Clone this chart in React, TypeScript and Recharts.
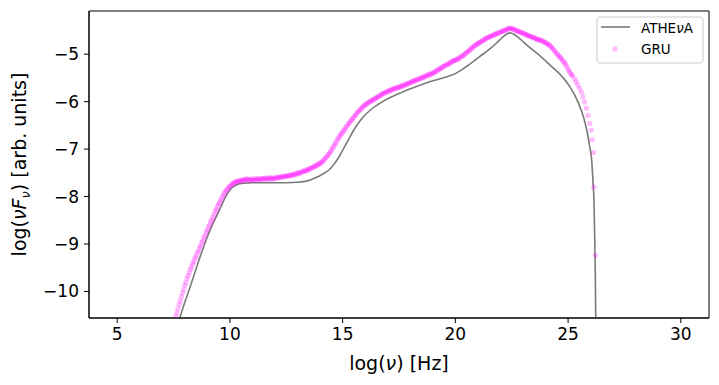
import React from "react";
import { ComposedChart, Line, Scatter, XAxis, YAxis, Label, ReferenceArea } from "recharts";

const xTicks = [5, 10, 15, 20, 25, 30];
const yTicks = [-10, -9, -8, -7, -6, -5];
const xDomain = [3.75, 31.25];
const yDomain = [-10.56, -4.09];

// ATHEνA model curve: [log ν, log νFν]
const athePoints: [number, number][] = [
  [7.5, -11.0], [7.77, -10.57], [8.0, -10.23], [8.29, -9.83], [8.5, -9.52], [8.73, -9.2], [8.95, -8.91],
  [9.18, -8.64], [9.4, -8.42], [9.55, -8.27], [9.75, -8.06], [9.91, -7.92], [10.1, -7.81], [10.3, -7.75],
  [10.6, -7.72], [11.0, -7.71], [11.5, -7.71], [12.0, -7.71], [12.5, -7.71], [13.0, -7.7], [13.5, -7.66],
  [13.83, -7.6], [14.1, -7.53], [14.42, -7.43], [14.65, -7.3], [14.87, -7.14], [15.1, -6.94], [15.35, -6.72],
  [15.6, -6.52], [15.9, -6.33], [16.3, -6.15], [16.7, -6.02], [17.08, -5.92], [17.6, -5.81], [18.12, -5.71],
  [18.86, -5.58], [19.6, -5.48], [20.0, -5.41], [20.49, -5.26], [21.08, -5.05], [21.5, -4.9], [21.82, -4.77],
  [22.1, -4.64], [22.41, -4.55], [22.6, -4.58], [22.85, -4.67], [23.2, -4.82], [23.74, -5.03], [24.25, -5.25],
  [24.75, -5.48], [25.1, -5.7], [25.45, -6.02], [25.7, -6.35], [25.85, -6.65], [25.96, -6.95], [26.05, -7.25],
  [26.1, -7.65], [26.15, -8.14], [26.18, -8.85], [26.21, -9.76], [26.23, -10.8], [26.25, -12.0],
];

// GRU points: [log ν, log νFν]
const gruPoints: [number, number][] = [
  [7.6, -10.52], [7.65, -10.45], [7.7, -10.36], [7.75, -10.27], [7.8, -10.2], [7.85, -10.11], [7.9, -10.03],
  [7.95, -9.96], [8.0, -9.87], [8.05, -9.81], [8.1, -9.73], [8.15, -9.67], [8.2, -9.6], [8.25, -9.53],
  [8.3, -9.48], [8.35, -9.41], [8.4, -9.37], [8.45, -9.3], [8.5, -9.26], [8.55, -9.19], [8.6, -9.15],
  [8.65, -9.08], [8.7, -9.04], [8.75, -8.97], [8.8, -8.93], [8.85, -8.86], [8.9, -8.82], [8.95, -8.75],
  [9.0, -8.71], [9.05, -8.64], [9.1, -8.6], [9.15, -8.53], [9.2, -8.49], [9.25, -8.43], [9.3, -8.38],
  [9.35, -8.31], [9.4, -8.27], [9.45, -8.21], [9.5, -8.16], [9.55, -8.12], [9.6, -8.07], [9.65, -8.02],
  [9.7, -7.98], [9.75, -7.93], [9.8, -7.9], [9.85, -7.86], [9.9, -7.84], [9.95, -7.8], [10.0, -7.79],
  [10.05, -7.76], [10.1, -7.74], [10.15, -7.72], [10.2, -7.71], [10.25, -7.69], [10.3, -7.69], [10.35, -7.67],
  [10.4, -7.68], [10.45, -7.66], [10.5, -7.67], [10.55, -7.65], [10.6, -7.66], [10.65, -7.64], [10.7, -7.65],
  [10.75, -7.63], [10.8, -7.64], [10.85, -7.66], [10.9, -7.65], [10.95, -7.63], [11.0, -7.64], [11.05, -7.66],
  [11.1, -7.65], [11.15, -7.62], [11.2, -7.63], [11.25, -7.65], [11.3, -7.64], [11.35, -7.62], [11.4, -7.63],
  [11.45, -7.64], [11.5, -7.62], [11.55, -7.61], [11.6, -7.63], [11.65, -7.64], [11.7, -7.62], [11.75, -7.6],
  [11.8, -7.63], [11.85, -7.62], [11.9, -7.61], [11.95, -7.63], [12.0, -7.62], [12.05, -7.6], [12.1, -7.6],
  [12.15, -7.61], [12.2, -7.6], [12.25, -7.58], [12.3, -7.59], [12.35, -7.59], [12.4, -7.58], [12.45, -7.56],
  [12.5, -7.58], [12.55, -7.56], [12.6, -7.57], [12.65, -7.55], [12.7, -7.56], [12.75, -7.54], [12.8, -7.55],
  [12.85, -7.53], [12.9, -7.54], [12.95, -7.51], [13.0, -7.52], [13.05, -7.5], [13.1, -7.51], [13.15, -7.48],
  [13.2, -7.49], [13.25, -7.46], [13.3, -7.47], [13.35, -7.44], [13.4, -7.46], [13.45, -7.43], [13.5, -7.44],
  [13.55, -7.41], [13.6, -7.41], [13.65, -7.38], [13.7, -7.39], [13.75, -7.36], [13.8, -7.36], [13.85, -7.33],
  [13.9, -7.34], [13.95, -7.3], [14.0, -7.31], [14.05, -7.28], [14.1, -7.27], [14.15, -7.23], [14.2, -7.22],
  [14.25, -7.18], [14.3, -7.16], [14.35, -7.12], [14.4, -7.1], [14.45, -7.06], [14.5, -7.03], [14.55, -6.98],
  [14.6, -6.95], [14.65, -6.9], [14.7, -6.87], [14.75, -6.82], [14.8, -6.78], [14.85, -6.74], [14.9, -6.71],
  [14.95, -6.67], [15.0, -6.65], [15.05, -6.61], [15.1, -6.58], [15.15, -6.54], [15.2, -6.51], [15.25, -6.47],
  [15.3, -6.45], [15.35, -6.41], [15.4, -6.39], [15.45, -6.35], [15.5, -6.33], [15.55, -6.29], [15.6, -6.27],
  [15.65, -6.23], [15.7, -6.21], [15.75, -6.18], [15.8, -6.16], [15.85, -6.13], [15.9, -6.11], [15.95, -6.08],
  [16.0, -6.07], [16.05, -6.05], [16.1, -6.04], [16.15, -6.01], [16.2, -6.01], [16.25, -5.98], [16.3, -5.98],
  [16.35, -5.96], [16.4, -5.95], [16.45, -5.93], [16.5, -5.92], [16.55, -5.9], [16.6, -5.89], [16.65, -5.87],
  [16.7, -5.86], [16.75, -5.84], [16.8, -5.83], [16.85, -5.82], [16.9, -5.81], [16.95, -5.79], [17.0, -5.79],
  [17.05, -5.77], [17.1, -5.77], [17.15, -5.75], [17.2, -5.75], [17.25, -5.73], [17.3, -5.73], [17.35, -5.71],
  [17.4, -5.72], [17.45, -5.7], [17.5, -5.7], [17.55, -5.68], [17.6, -5.68], [17.65, -5.66], [17.7, -5.67],
  [17.75, -5.64], [17.8, -5.65], [17.85, -5.62], [17.9, -5.63], [17.95, -5.6], [18.0, -5.61], [18.05, -5.58],
  [18.1, -5.58], [18.15, -5.56], [18.2, -5.57], [18.25, -5.54], [18.3, -5.55], [18.35, -5.52], [18.4, -5.53],
  [18.45, -5.5], [18.5, -5.51], [18.55, -5.48], [18.6, -5.49], [18.65, -5.46], [18.7, -5.47], [18.75, -5.44],
  [18.8, -5.45], [18.85, -5.42], [18.9, -5.43], [18.95, -5.4], [19.0, -5.41], [19.05, -5.38], [19.1, -5.38],
  [19.15, -5.35], [19.2, -5.35], [19.25, -5.32], [19.3, -5.32], [19.35, -5.29], [19.4, -5.29], [19.45, -5.26],
  [19.5, -5.26], [19.55, -5.23], [19.6, -5.23], [19.65, -5.21], [19.7, -5.21], [19.75, -5.18], [19.8, -5.18],
  [19.85, -5.15], [19.9, -5.15], [19.95, -5.13], [20.0, -5.13], [20.05, -5.11], [20.1, -5.11], [20.15, -5.08],
  [20.2, -5.08], [20.25, -5.05], [20.3, -5.05], [20.35, -5.02], [20.4, -5.01], [20.45, -4.98], [20.5, -4.97],
  [20.55, -4.94], [20.6, -4.93], [20.65, -4.9], [20.7, -4.89], [20.75, -4.86], [20.8, -4.85], [20.85, -4.82],
  [20.9, -4.81], [20.95, -4.79], [21.0, -4.78], [21.05, -4.76], [21.1, -4.75], [21.15, -4.73], [21.2, -4.72],
  [21.25, -4.7], [21.3, -4.69], [21.35, -4.67], [21.4, -4.66], [21.45, -4.65], [21.5, -4.64], [21.55, -4.62],
  [21.6, -4.62], [21.65, -4.6], [21.7, -4.6], [21.75, -4.58], [21.8, -4.58], [21.85, -4.56], [21.9, -4.56],
  [21.95, -4.54], [22.0, -4.54], [22.05, -4.52], [22.1, -4.52], [22.15, -4.5], [22.2, -4.5], [22.25, -4.48],
  [22.3, -4.48], [22.35, -4.46], [22.4, -4.46], [22.45, -4.45], [22.5, -4.47], [22.55, -4.47], [22.6, -4.48],
  [22.65, -4.49], [22.7, -4.5], [22.75, -4.51], [22.8, -4.52], [22.85, -4.53], [22.9, -4.54], [22.95, -4.55],
  [23.0, -4.56], [23.05, -4.57], [23.1, -4.58], [23.15, -4.59], [23.2, -4.6], [23.25, -4.61], [23.3, -4.62],
  [23.35, -4.63], [23.4, -4.64], [23.45, -4.65], [23.5, -4.66], [23.55, -4.67], [23.6, -4.68], [23.65, -4.69],
  [23.7, -4.7], [23.75, -4.7], [23.8, -4.71], [23.85, -4.72], [23.9, -4.73], [23.95, -4.75], [24.0, -4.76],
  [24.05, -4.77], [24.1, -4.79], [24.15, -4.8], [24.2, -4.82], [24.25, -4.85], [24.3, -4.87], [24.35, -4.9],
  [24.4, -4.93], [24.45, -4.96], [24.5, -4.99], [24.55, -5.02], [24.6, -5.04], [24.65, -5.07], [24.7, -5.09],
  [24.75, -5.13], [24.8, -5.16], [24.85, -5.19], [24.9, -5.22], [24.95, -5.27], [25.0, -5.32], [25.05, -5.36],
  [25.1, -5.4], [25.15, -5.43], [25.2, -5.46], [25.29, -5.52], [25.36, -5.58], [25.43, -5.65], [25.51, -5.72],
  [25.59, -5.8], [25.66, -5.9], [25.73, -6.01], [25.81, -6.14], [25.88, -6.29], [25.96, -6.46], [26.03, -6.6],
  [26.07, -6.8], [26.12, -7.07], [26.14, -7.8], [26.21, -9.24],
];

const atheData = athePoints.map(([x, y]) => ({ x, y }));
const gruData = gruPoints.map(([x, y]) => ({ x, y }));

const FONT = "DejaVu Sans";
const LINE_COLOR = "#7a7a7a";
const DOT_COLOR = "#ff00ff";
const DOT_OPACITY = 0.25;
const fmt = (v: number) => (v < 0 ? "\u2212" + Math.abs(v) : String(v));

const Dot = (props: any) => {
  const { cx, cy } = props;
  if (cx == null || cy == null) return null;
  return <circle cx={cx} cy={cy} r={2.7} fill={DOT_COLOR} fillOpacity={DOT_OPACITY} />;
};

const XLabel = (props: any) => {
  const vb = props.viewBox || {};
  const cx = vb.x + vb.width / 2;
  return (
    <text x={cx} y={370} textAnchor="middle" fontFamily={FONT} fontSize={19} fill="#000">
      log(<tspan fontStyle="italic">ν</tspan>) [Hz]
    </text>
  );
};

const YLabel = (props: any) => {
  const vb = props.viewBox || {};
  const cy = vb.y + vb.height / 2;
  const x = 26;
  return (
    <text
      x={x}
      y={cy}
      transform={`rotate(-90 ${x} ${cy})`}
      textAnchor="middle"
      fontFamily={FONT}
      fontSize={19}
      fill="#000"
    >
      log(<tspan fontStyle="italic">νF</tspan>
      <tspan fontStyle="italic" fontSize={13} dy={4}>ν</tspan>
      <tspan dy={-4}>) [arb. units]</tspan>
    </text>
  );
};

export default function App() {
  return (
    <div style={{ position: "absolute", left: 0, top: 0, width: 719, height: 385, background: "#fff" }}>
      <ComposedChart width={719} height={385} margin={{ top: 11, right: 10, bottom: 0, left: 0 }}>
        <XAxis
          type="number"
          dataKey="x"
          domain={xDomain}
          ticks={xTicks}
          allowDataOverflow
          height={67}
          tickSize={5}
          tickMargin={5}
          tickFormatter={fmt}
          axisLine={{ stroke: "#000", strokeWidth: 1 }}
          tickLine={{ stroke: "#000", strokeWidth: 1 }}
          tick={{ fill: "#000", fontSize: 17, fontFamily: FONT }}
        >
          <Label content={<XLabel />} />
        </XAxis>
        <YAxis
          type="number"
          dataKey="y"
          domain={yDomain}
          ticks={yTicks}
          allowDataOverflow
          width={89}
          tickSize={5}
          tickMargin={5}
          tickFormatter={fmt}
          axisLine={{ stroke: "#000", strokeWidth: 1 }}
          tickLine={{ stroke: "#000", strokeWidth: 1 }}
          tick={{ fill: "#000", fontSize: 17, fontFamily: FONT }}
        >
          <Label content={<YLabel />} />
        </YAxis>
        <Line
          data={atheData}
          dataKey="y"
          type="monotone"
          stroke={LINE_COLOR}
          strokeWidth={1.6}
          dot={false}
          isAnimationActive={false}
          name="ATHEνA"
        />
        <Scatter data={gruData} dataKey="y" shape={<Dot />} isAnimationActive={false} name="GRU" />
        <ReferenceArea
          x1={xDomain[0]}
          x2={xDomain[1]}
          y1={yDomain[0]}
          y2={yDomain[1]}
          fill="none"
          fillOpacity={0}
          stroke="#000"
          strokeWidth={1}
          strokeOpacity={1}
        />
      </ComposedChart>
      <svg width={108} height={48} style={{ position: "absolute", left: 596, top: 16 }}>
        <rect x={1} y={1} width={106} height={46} rx={3} fill="#fff" fillOpacity={0.8} stroke="#cccccc" strokeWidth={1} />
        <line x1={5} y1={11} x2={34} y2={11} stroke={LINE_COLOR} strokeWidth={1.6} />
        <text x={45} y={16.5} fontFamily={FONT} fontSize={13.5} fill="#000">
          ATHE<tspan fontStyle="italic">ν</tspan>A
        </text>
        <circle cx={19} cy={33} r={2.7} fill={DOT_COLOR} fillOpacity={DOT_OPACITY} />
        <text x={45} y={38} fontFamily={FONT} fontSize={13.5} fill="#000">GRU</text>
      </svg>
    </div>
  );
}
